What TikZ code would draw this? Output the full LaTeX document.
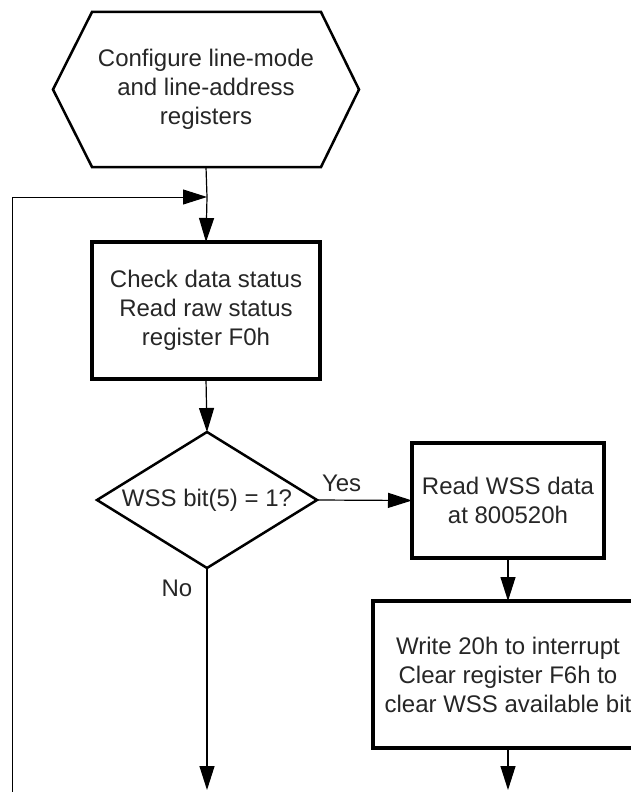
\documentclass[tikz,border=0pt]{standalone}
\usepackage{fontspec}
\setmainfont{Liberation Sans}
\usetikzlibrary{arrows.meta,shapes.geometric}
\begin{document}
\begin{tikzpicture}[x=1pt,y=-1pt,
  every node/.style={font=\fontsize{24pt}{29pt}\selectfont, text=black!85, align=center, inner sep=0pt, outer sep=0pt},
  procbox/.style={draw, line width=3.5pt, rectangle},
  decide/.style={draw, line width=2.5pt, diamond, aspect=1.6},
  conn/.style={line width=1.2pt, -{Triangle[length=24pt,width=15pt]}},
  lbl/.style={font=\fontsize{24pt}{29pt}\selectfont}]
\useasboundingbox (0,0) rectangle (631,792);
\clip (0,0) rectangle (631,792);
% start hexagon
\node[minimum width=306pt, minimum height=155pt] (cfg) at (206,89.5) {Configure line-mode\\and line-address\\registers};
\draw[line width=2.5pt, line join=miter] (cfg.west) -- ([xshift=39pt]cfg.north west) -- ([xshift=-38pt]cfg.north east) -- (cfg.east) -- ([xshift=-38pt]cfg.south east) -- ([xshift=39pt]cfg.south west) -- cycle;
% boxes
\node[procbox, minimum width=228pt, minimum height=137pt] (chk) at (206,310.5) {Check data status\\Read raw status\\register F0h};
\node[decide, minimum width=220pt, minimum height=136pt] (dec) at (207,500) {WSS bit(5) = 1?};
\node[procbox, minimum width=192pt, minimum height=115pt] (rd) at (508,500.5) {Read WSS data\\at 800520h};
\node[procbox, minimum width=270pt, minimum height=147pt] (wr) at (508,674.5) {Write 20h to interrupt\\Clear register F6h to\\clear WSS available bit};
% coordinates
\coordinate (loopS) at (12,800);
\coordinate (join) at (207,197);
\coordinate (noEnd) at (207,790);
\coordinate (wrEnd) at (508,790);
% connectors
\draw[line width=1.2pt] (cfg.south) -- (join);
\draw[conn] (join) -- (chk.north);
\draw[line width=1pt, -{Triangle[length=24pt,width=15pt]}] (loopS) |- (join);
\draw[conn] (chk.south) -- (dec.north);
\draw[conn] (dec.east) -- (rd.west);
\draw[conn] (rd.south) -- (wr.north);
\draw[conn] (dec.south) -- (noEnd);
\draw[conn] (wr.south) -- (wrEnd);
% labels
\node[lbl, anchor=west] (yes) at (322,483) {Yes};
\node[lbl] (no) at (177,588) {No};
\end{tikzpicture}
\end{document}
